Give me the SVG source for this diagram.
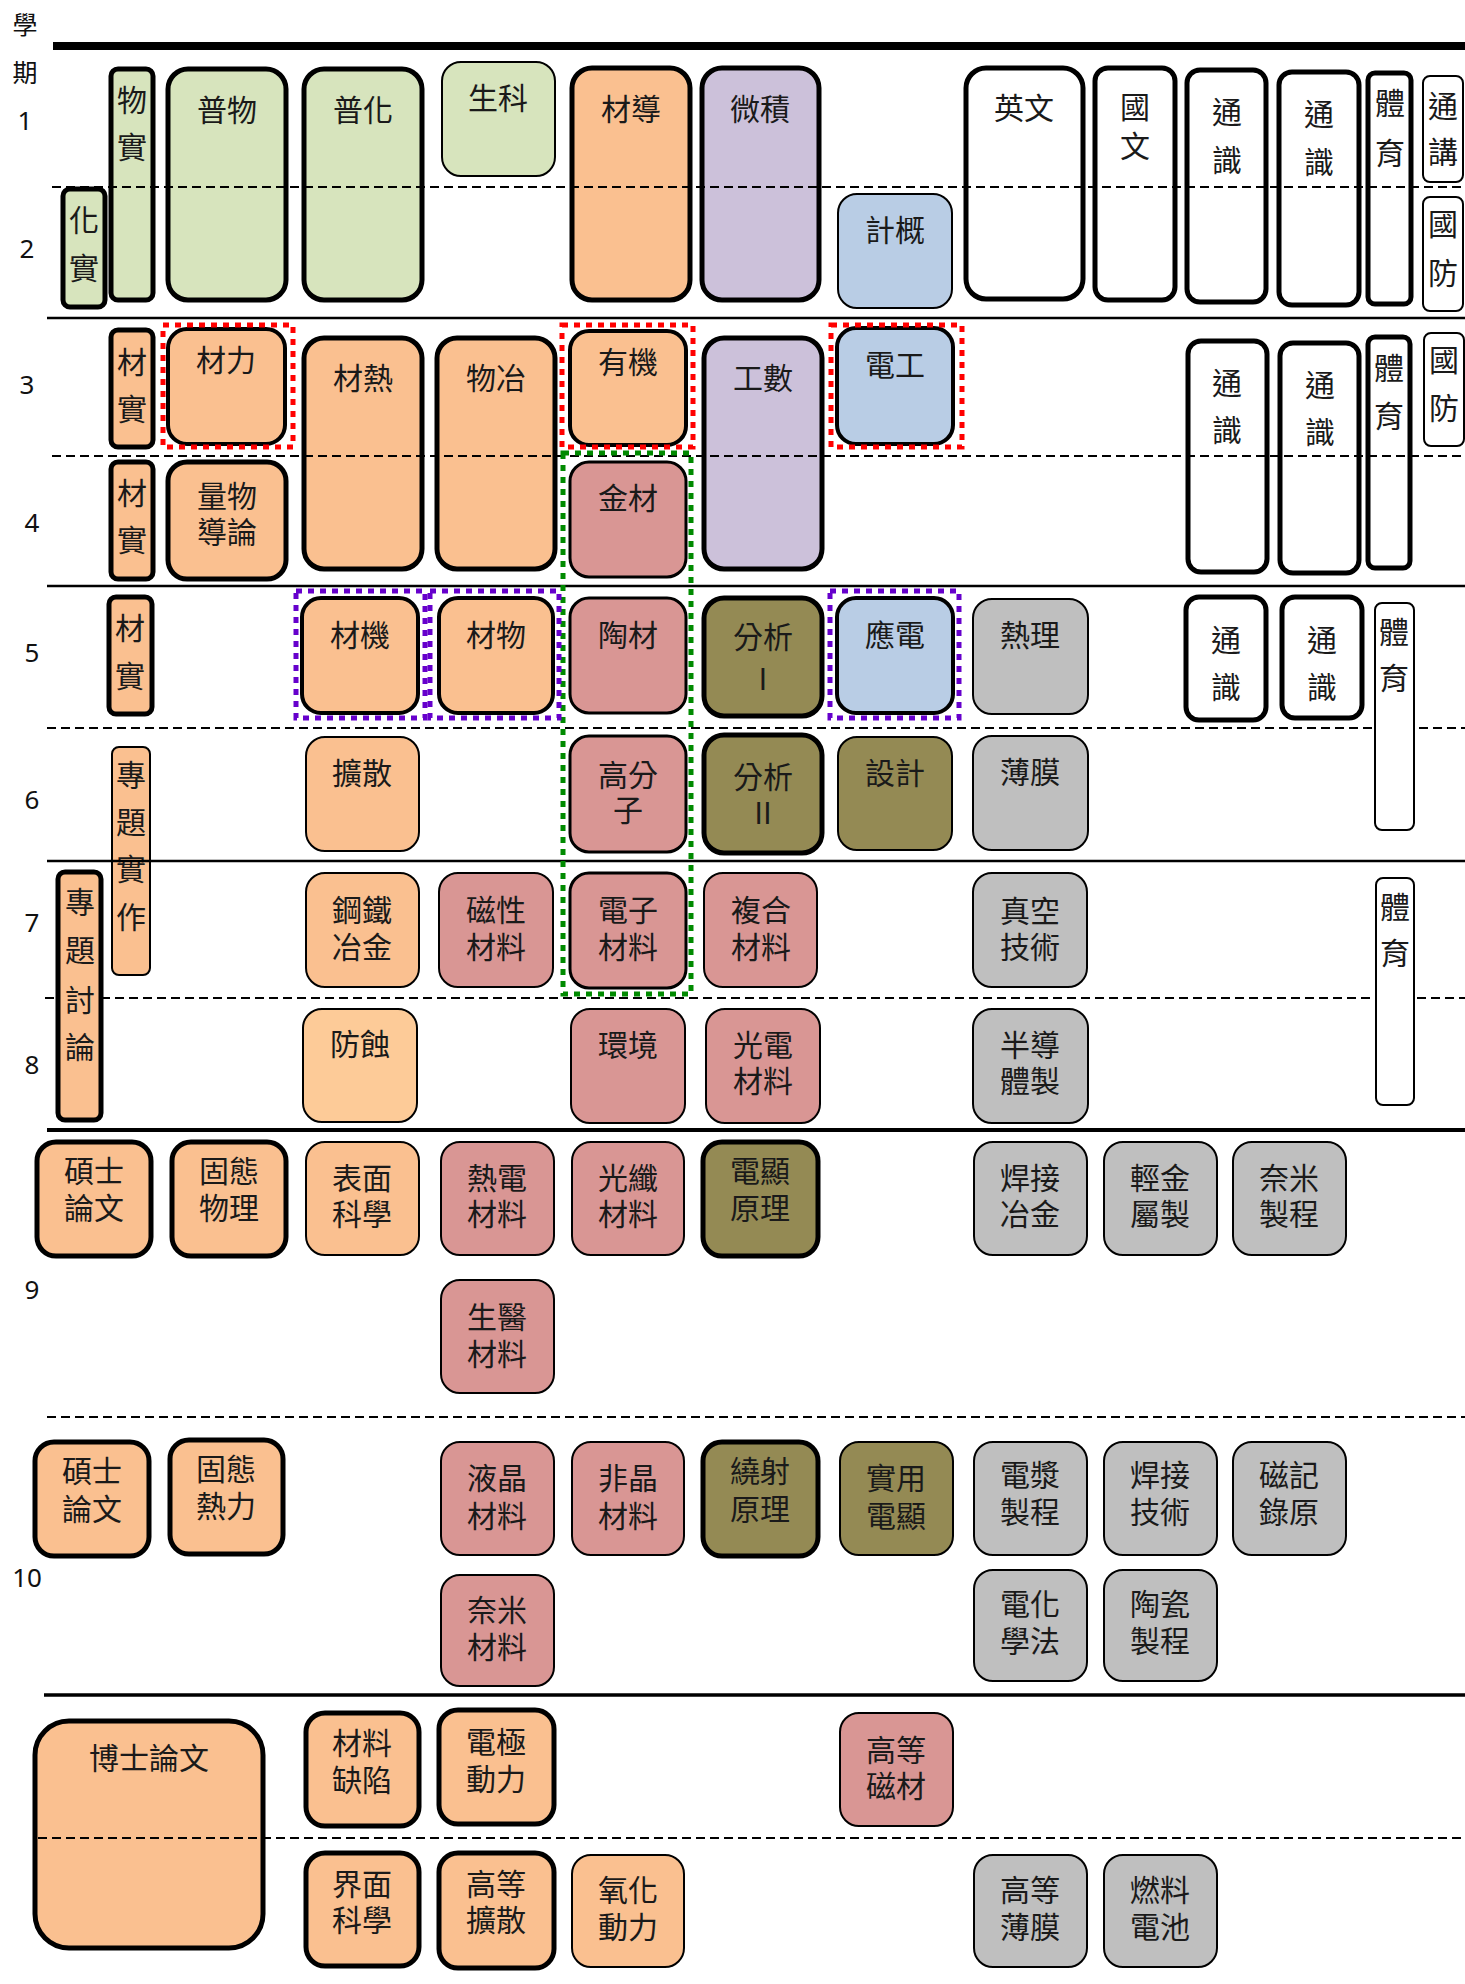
<svg xmlns="http://www.w3.org/2000/svg" width="1465" height="1984" viewBox="0 0 1465 1984">
<style>
.t{font-family:"Noto Sans CJK TC","Noto Sans CJK SC",sans-serif;font-size:30px;fill:#1a1a1a;text-anchor:middle}
.lab{font-family:"Noto Sans","Open Sans",sans-serif;font-size:26px;fill:#111;text-anchor:middle}
.labc{font-family:"Noto Sans CJK TC",sans-serif;font-size:25px;fill:#111;text-anchor:middle}
rect{stroke:#000}
.k{stroke-width:5}
.m{stroke-width:4}
.s{stroke-width:3}
.n{stroke-width:2}
.g{fill:#D7E4BD}
.o{fill:#FAC090}
.oo{fill:#FDCB98}
.v{fill:#CCC1DA}
.b{fill:#B9CDE5}
.r{fill:#D99694}
.y{fill:#948A54}
.e{fill:#BFBFBF}
.w{fill:#FFFFFF}
.sol{stroke:#000;fill:none}
.dash{stroke:#000;stroke-width:2;stroke-dasharray:9 5;fill:none}
.hl{fill:none;stroke-width:5;stroke-dasharray:6 6}
.red{stroke:#FF0000}
.pur{stroke:#6600CC}
.grn{stroke:#008A00}
</style>

<g id="axis">
<text class="labc" x="25" y="34">學</text>
<text class="labc" x="25" y="82">期</text>
<text class="lab" x="25" y="130">1</text>
<text class="lab" x="27" y="258">2</text>
<text class="lab" x="27" y="394">3</text>
<text class="lab" x="32" y="532">4</text>
<text class="lab" x="32" y="662">5</text>
<text class="lab" x="32" y="809">6</text>
<text class="lab" x="32" y="932">7</text>
<text class="lab" x="32" y="1074">8</text>
<text class="lab" x="32" y="1299">9</text>
<text class="lab" x="27" y="1587">10</text>
</g>

<!-- Semesters 1-2 -->
<g id="n-huashi"><rect class="g k" x="63" y="189" width="42" height="118" rx="7"/><text class="t"><tspan x="84" y="231">化</tspan><tspan x="84" y="279">實</tspan></text></g>
<g id="n-wushi"><rect class="g k" x="111" y="69" width="42" height="231" rx="7"/><text class="t"><tspan x="132" y="111">物</tspan><tspan x="132" y="158">實</tspan></text></g>
<g id="n-puwu"><rect class="g k" x="168" y="69" width="118" height="231" rx="20"/><text class="t" x="227" y="121">普物</text></g>
<g id="n-puhua"><rect class="g k" x="304" y="69" width="118" height="231" rx="20"/><text class="t" x="363" y="121">普化</text></g>
<g id="n-shengke"><rect class="g n" x="442" y="62" width="113" height="114" rx="19"/><text class="t" x="498" y="109">生科</text></g>
<g id="n-caidao"><rect class="o k" x="572" y="68" width="118" height="232" rx="20"/><text class="t" x="631" y="120">材導</text></g>
<g id="n-weiji"><rect class="v k" x="702" y="68" width="117" height="232" rx="20"/><text class="t" x="760" y="120">微積</text></g>
<g id="n-jigai"><rect class="b n" x="838" y="194" width="114" height="114" rx="19"/><text class="t" x="895" y="241">計概</text></g>
<g id="n-yingwen"><rect class="w k" x="966" y="68" width="117" height="231" rx="20"/><text class="t" x="1024" y="119">英文</text></g>
<g id="n-guowen"><rect class="w k" x="1095" y="68" width="80" height="232" rx="13"/><text class="t"><tspan x="1135" y="118">國</tspan><tspan x="1135" y="157">文</tspan></text></g>
<g id="n-tongshi1a"><rect class="w k" x="1187" y="70" width="79" height="232" rx="13"/><text class="t"><tspan x="1227" y="123">通</tspan><tspan x="1227" y="171">識</tspan></text></g>
<g id="n-tongshi1b"><rect class="w k" x="1279" y="72" width="80" height="233" rx="13"/><text class="t"><tspan x="1319" y="125">通</tspan><tspan x="1319" y="173">識</tspan></text></g>
<g id="n-tiyu1"><rect class="w k" x="1368" y="73" width="43" height="231" rx="7"/><text class="t"><tspan x="1390" y="114">體</tspan><tspan x="1390" y="164">育</tspan></text></g>
<g id="n-tongjiang"><rect class="w n" x="1423" y="76" width="40" height="106" rx="7"/><text class="t"><tspan x="1443" y="117">通</tspan><tspan x="1443" y="163">講</tspan></text></g>
<g id="n-guofang2"><rect class="w n" x="1423" y="197" width="40" height="114" rx="7"/><text class="t"><tspan x="1443" y="235">國</tspan><tspan x="1443" y="284">防</tspan></text></g>

<!-- Semesters 3-4 -->
<g id="n-caishi3"><rect class="o k" x="111" y="330" width="42" height="117" rx="7"/><text class="t"><tspan x="132" y="373">材</tspan><tspan x="132" y="420">實</tspan></text></g>
<g id="n-caili"><rect class="o m" x="168" y="329" width="117" height="115" rx="19"/><text class="t" x="226" y="371">材力</text></g>
<g id="n-caire"><rect class="o k" x="304" y="338" width="118" height="231" rx="20"/><text class="t" x="363" y="389">材熱</text></g>
<g id="n-wuye"><rect class="o k" x="437" y="338" width="118" height="231" rx="20"/><text class="t" x="496" y="389">物冶</text></g>
<g id="n-youji"><rect class="o m" x="570" y="331" width="116" height="114" rx="19"/><text class="t" x="628" y="373">有機</text></g>
<g id="n-gongshu"><rect class="v k" x="704" y="338" width="118" height="231" rx="20"/><text class="t" x="763" y="389">工數</text></g>
<g id="n-diangong"><rect class="b m" x="837" y="328" width="116" height="116" rx="19"/><text class="t" x="895" y="376">電工</text></g>
<g id="n-tongshi3a"><rect class="w k" x="1188" y="341" width="79" height="231" rx="13"/><text class="t"><tspan x="1227" y="394">通</tspan><tspan x="1227" y="441">識</tspan></text></g>
<g id="n-tongshi3b"><rect class="w k" x="1280" y="343" width="79" height="230" rx="13"/><text class="t"><tspan x="1320" y="396">通</tspan><tspan x="1320" y="443">識</tspan></text></g>
<g id="n-tiyu3"><rect class="w k" x="1368" y="337" width="42" height="231" rx="7"/><text class="t"><tspan x="1389" y="379">體</tspan><tspan x="1389" y="427">育</tspan></text></g>
<g id="n-guofang3"><rect class="w n" x="1424" y="333" width="40" height="113" rx="7"/><text class="t"><tspan x="1444" y="371">國</tspan><tspan x="1444" y="419">防</tspan></text></g>
<g id="n-caishi4"><rect class="o k" x="111" y="462" width="42" height="117" rx="7"/><text class="t"><tspan x="132" y="504">材</tspan><tspan x="132" y="551">實</tspan></text></g>
<g id="n-liangwu"><rect class="o k" x="168" y="462" width="118" height="117" rx="19"/><text class="t"><tspan x="227" y="507">量物</tspan><tspan x="227" y="543">導論</tspan></text></g>
<g id="n-jincai"><rect class="r s" x="570" y="462" width="116" height="115" rx="19"/><text class="t" x="628" y="509">金材</text></g>

<!-- Semesters 5-6 -->
<g id="n-caishi5"><rect class="o k" x="109" y="597" width="43" height="117" rx="7"/><text class="t"><tspan x="130" y="639">材</tspan><tspan x="130" y="687">實</tspan></text></g>
<g id="n-caiji"><rect class="o m" x="302" y="598" width="116" height="115" rx="19"/><text class="t" x="360" y="646">材機</text></g>
<g id="n-caiwu"><rect class="o m" x="439" y="598" width="114" height="115" rx="19"/><text class="t" x="496" y="646">材物</text></g>
<g id="n-taocai"><rect class="r s" x="570" y="598" width="116" height="115" rx="19"/><text class="t" x="628" y="646">陶材</text></g>
<g id="n-fenxi1"><rect class="y k" x="704" y="598" width="118" height="118" rx="20"/><text class="t"><tspan x="763" y="648">分析</tspan><tspan x="763" y="690">I</tspan></text></g>
<g id="n-yingdian"><rect class="b m" x="837" y="598" width="116" height="115" rx="19"/><text class="t" x="895" y="646">應電</text></g>
<g id="n-reli"><rect class="e n" x="973" y="599" width="115" height="115" rx="19"/><text class="t" x="1030" y="646">熱理</text></g>
<g id="n-tongshi5a"><rect class="w k" x="1186" y="597" width="80" height="123" rx="13"/><text class="t"><tspan x="1226" y="651">通</tspan><tspan x="1226" y="698">識</tspan></text></g>
<g id="n-tongshi5b"><rect class="w k" x="1282" y="597" width="80" height="121" rx="13"/><text class="t"><tspan x="1322" y="651">通</tspan><tspan x="1322" y="698">識</tspan></text></g>
<g id="n-zhuanti-sz"><rect class="o n" x="112" y="747" width="38" height="228" rx="7"/><text class="t"><tspan x="131" y="786">專</tspan><tspan x="131" y="833">題</tspan><tspan x="131" y="880">實</tspan><tspan x="131" y="928">作</tspan></text></g>
<g id="n-kuosan"><rect class="o n" x="306" y="737" width="113" height="114" rx="19"/><text class="t" x="362" y="784">擴散</text></g>
<g id="n-gaofenzi"><rect class="r s" x="570" y="736" width="116" height="116" rx="19"/><text class="t"><tspan x="628" y="786">高分</tspan><tspan x="628" y="821">子</tspan></text></g>
<g id="n-fenxi2"><rect class="y k" x="704" y="735" width="118" height="118" rx="20"/><text class="t"><tspan x="763" y="788">分析</tspan><tspan x="763" y="824">II</tspan></text></g>
<g id="n-sheji"><rect class="y n" x="838" y="737" width="114" height="113" rx="19"/><text class="t" x="895" y="784">設計</text></g>
<g id="n-bomo"><rect class="e n" x="973" y="736" width="115" height="114" rx="19"/><text class="t" x="1030" y="783">薄膜</text></g>

<!-- Semesters 7-8 -->
<g id="n-gangtie"><rect class="o n" x="306" y="873" width="113" height="114" rx="19"/><text class="t"><tspan x="362" y="921">鋼鐵</tspan><tspan x="362" y="958">冶金</tspan></text></g>
<g id="n-cixing"><rect class="r n" x="439" y="873" width="114" height="114" rx="19"/><text class="t"><tspan x="496" y="921">磁性</tspan><tspan x="496" y="958">材料</tspan></text></g>
<g id="n-dianzi"><rect class="r s" x="570" y="873" width="116" height="115" rx="19"/><text class="t"><tspan x="628" y="921">電子</tspan><tspan x="628" y="958">材料</tspan></text></g>
<g id="n-fuhe"><rect class="r n" x="704" y="873" width="113" height="114" rx="19"/><text class="t"><tspan x="761" y="921">複合</tspan><tspan x="761" y="958">材料</tspan></text></g>
<g id="n-zhenkong"><rect class="e n" x="973" y="873" width="114" height="114" rx="19"/><text class="t"><tspan x="1030" y="922">真空</tspan><tspan x="1030" y="958">技術</tspan></text></g>
<g id="n-fangshi"><rect class="oo n" x="303" y="1009" width="114" height="113" rx="19"/><text class="t" x="360" y="1055">防蝕</text></g>
<g id="n-huanjing"><rect class="r n" x="571" y="1009" width="114" height="114" rx="19"/><text class="t" x="628" y="1056">環境</text></g>
<g id="n-guangdian"><rect class="r n" x="706" y="1009" width="114" height="114" rx="19"/><text class="t"><tspan x="763" y="1056">光電</tspan><tspan x="763" y="1092">材料</tspan></text></g>
<g id="n-bandao"><rect class="e n" x="973" y="1009" width="115" height="114" rx="19"/><text class="t"><tspan x="1030" y="1056">半導</tspan><tspan x="1030" y="1092">體製</tspan></text></g>

<!-- Semester 9 -->
<g id="n-shuoshi9"><rect class="o k" x="37" y="1142" width="114" height="114" rx="19"/><text class="t"><tspan x="94" y="1182">碩士</tspan><tspan x="94" y="1219">論文</tspan></text></g>
<g id="n-gutaiwl"><rect class="o k" x="172" y="1142" width="114" height="114" rx="19"/><text class="t"><tspan x="229" y="1182">固態</tspan><tspan x="229" y="1219">物理</tspan></text></g>
<g id="n-biaomian"><rect class="o n" x="306" y="1142" width="113" height="113" rx="19"/><text class="t"><tspan x="362" y="1189">表面</tspan><tspan x="362" y="1225">科學</tspan></text></g>
<g id="n-piedian"><rect class="r n" x="441" y="1142" width="113" height="113" rx="19"/><text class="t"><tspan x="497" y="1189">熱電</tspan><tspan x="497" y="1225">材料</tspan></text></g>
<g id="n-guangxian"><rect class="r n" x="572" y="1142" width="112" height="113" rx="19"/><text class="t"><tspan x="628" y="1189">光纖</tspan><tspan x="628" y="1225">材料</tspan></text></g>
<g id="n-dianxian"><rect class="y k" x="703" y="1142" width="115" height="114" rx="19"/><text class="t"><tspan x="760" y="1182">電顯</tspan><tspan x="760" y="1219">原理</tspan></text></g>
<g id="n-hanjieyj"><rect class="e n" x="974" y="1142" width="113" height="113" rx="19"/><text class="t"><tspan x="1030" y="1189">焊接</tspan><tspan x="1030" y="1225">冶金</tspan></text></g>
<g id="n-qingjin"><rect class="e n" x="1104" y="1142" width="113" height="113" rx="19"/><text class="t"><tspan x="1160" y="1189">輕金</tspan><tspan x="1160" y="1225">屬製</tspan></text></g>
<g id="n-naimizc"><rect class="e n" x="1233" y="1142" width="113" height="113" rx="19"/><text class="t"><tspan x="1289" y="1189">奈米</tspan><tspan x="1289" y="1225">製程</tspan></text></g>
<g id="n-shengyi"><rect class="r n" x="441" y="1280" width="113" height="113" rx="19"/><text class="t"><tspan x="497" y="1328">生醫</tspan><tspan x="497" y="1365">材料</tspan></text></g>

<!-- Semester 10 -->
<g id="n-shuoshi10"><rect class="o k" x="35" y="1442" width="114" height="114" rx="19"/><text class="t"><tspan x="92" y="1482">碩士</tspan><tspan x="92" y="1520">論文</tspan></text></g>
<g id="n-gutairl"><rect class="o k" x="170" y="1440" width="113" height="114" rx="19"/><text class="t"><tspan x="226" y="1480">固態</tspan><tspan x="226" y="1517">熱力</tspan></text></g>
<g id="n-yejing"><rect class="r n" x="441" y="1442" width="113" height="113" rx="19"/><text class="t"><tspan x="497" y="1489">液晶</tspan><tspan x="497" y="1527">材料</tspan></text></g>
<g id="n-feijing"><rect class="r n" x="572" y="1442" width="112" height="113" rx="19"/><text class="t"><tspan x="628" y="1489">非晶</tspan><tspan x="628" y="1527">材料</tspan></text></g>
<g id="n-raoshe"><rect class="y k" x="703" y="1442" width="115" height="114" rx="19"/><text class="t"><tspan x="760" y="1482">繞射</tspan><tspan x="760" y="1520">原理</tspan></text></g>
<g id="n-shiyong"><rect class="y n" x="840" y="1442" width="113" height="113" rx="19"/><text class="t"><tspan x="896" y="1489">實用</tspan><tspan x="896" y="1527">電顯</tspan></text></g>
<g id="n-dianjiang"><rect class="e n" x="974" y="1442" width="113" height="113" rx="19"/><text class="t"><tspan x="1030" y="1486">電漿</tspan><tspan x="1030" y="1523">製程</tspan></text></g>
<g id="n-hanjiejs"><rect class="e n" x="1104" y="1442" width="113" height="113" rx="19"/><text class="t"><tspan x="1160" y="1486">焊接</tspan><tspan x="1160" y="1523">技術</tspan></text></g>
<g id="n-ciji"><rect class="e n" x="1233" y="1442" width="113" height="113" rx="19"/><text class="t"><tspan x="1289" y="1486">磁記</tspan><tspan x="1289" y="1523">錄原</tspan></text></g>
<g id="n-naimicl"><rect class="r n" x="441" y="1575" width="113" height="111" rx="19"/><text class="t"><tspan x="497" y="1621">奈米</tspan><tspan x="497" y="1658">材料</tspan></text></g>
<g id="n-dianhua"><rect class="e n" x="974" y="1570" width="113" height="111" rx="19"/><text class="t"><tspan x="1030" y="1615">電化</tspan><tspan x="1030" y="1652">學法</tspan></text></g>
<g id="n-taoci"><rect class="e n" x="1104" y="1570" width="113" height="111" rx="19"/><text class="t"><tspan x="1160" y="1615">陶瓷</tspan><tspan x="1160" y="1652">製程</tspan></text></g>

<!-- Semesters 11-12 -->
<g id="n-boshi"><rect class="o k" x="35" y="1721" width="228" height="227" rx="34"/><text class="t" x="149" y="1769">博士論文</text></g>
<g id="n-quexian"><rect class="o k" x="306" y="1713" width="113" height="113" rx="19"/><text class="t"><tspan x="362" y="1754">材料</tspan><tspan x="362" y="1791">缺陷</tspan></text></g>
<g id="n-dianji"><rect class="o k" x="439" y="1710" width="115" height="114" rx="19"/><text class="t"><tspan x="496" y="1753">電極</tspan><tspan x="496" y="1790">動力</tspan></text></g>
<g id="n-gaocicai"><rect class="r n" x="840" y="1713" width="113" height="113" rx="19"/><text class="t"><tspan x="896" y="1761">高等</tspan><tspan x="896" y="1797">磁材</tspan></text></g>
<g id="n-jiemian"><rect class="o k" x="306" y="1853" width="113" height="113" rx="19"/><text class="t"><tspan x="362" y="1895">界面</tspan><tspan x="362" y="1931">科學</tspan></text></g>
<g id="n-gaokuosan"><rect class="o k" x="439" y="1853" width="115" height="115" rx="19"/><text class="t"><tspan x="496" y="1895">高等</tspan><tspan x="496" y="1931">擴散</tspan></text></g>
<g id="n-yanghua"><rect class="o n" x="572" y="1855" width="112" height="112" rx="19"/><text class="t"><tspan x="628" y="1901">氧化</tspan><tspan x="628" y="1938">動力</tspan></text></g>
<g id="n-gaobomo"><rect class="e n" x="974" y="1855" width="113" height="112" rx="19"/><text class="t"><tspan x="1030" y="1901">高等</tspan><tspan x="1030" y="1938">薄膜</tspan></text></g>
<g id="n-ranliao"><rect class="e n" x="1104" y="1855" width="113" height="112" rx="19"/><text class="t"><tspan x="1160" y="1901">燃料</tspan><tspan x="1160" y="1938">電池</tspan></text></g>

<!-- semester grid lines -->
<g id="connectors">
<line class="sol" x1="53" y1="46" x2="1465" y2="46" stroke-width="8"/>
<line class="dash" x1="52" y1="187" x2="1465" y2="187"/>
<line class="sol" x1="47" y1="318" x2="1465" y2="318" stroke-width="2.5"/>
<line class="dash" x1="52" y1="456" x2="1465" y2="456"/>
<line class="sol" x1="47" y1="586" x2="1465" y2="586" stroke-width="2.5"/>
<line class="dash" x1="47" y1="728" x2="1465" y2="728"/>
<line class="sol" x1="47" y1="861" x2="1465" y2="861" stroke-width="2.5"/>
<line class="dash" x1="45" y1="998" x2="1465" y2="998"/>
<line class="sol" x1="47" y1="1130" x2="1465" y2="1130" stroke-width="4"/>
<line class="dash" x1="47" y1="1417" x2="1465" y2="1417"/>
<line class="sol" x1="44" y1="1695" x2="1465" y2="1695" stroke-width="3.5"/>
<line class="dash" x1="38" y1="1838" x2="1465" y2="1838"/>
</g>

<!-- nodes drawn above the grid lines -->
<g id="n-zhuanti-tl"><rect class="o k" x="58" y="872" width="43" height="248" rx="7"/><text class="t"><tspan x="80" y="913">專</tspan><tspan x="80" y="961">題</tspan><tspan x="80" y="1011">討</tspan><tspan x="80" y="1058">論</tspan></text></g>
<g id="n-tiyu5"><rect class="w n" x="1375" y="603" width="39" height="227" rx="7"/><text class="t"><tspan x="1394" y="643">體</tspan><tspan x="1394" y="689">育</tspan></text></g>
<g id="n-tiyu7"><rect class="w n" x="1376" y="878" width="38" height="227" rx="7"/><text class="t"><tspan x="1395" y="918">體</tspan><tspan x="1395" y="964">育</tspan></text></g>

<!-- highlight frames -->
<g id="highlights">
<rect class="hl red" x="163" y="325" width="130" height="122"/>
<rect class="hl red" x="562" y="325" width="131" height="122"/>
<rect class="hl red" x="831" y="325" width="131" height="122"/>
<rect class="hl grn" x="563" y="453" width="128" height="541"/>
<rect class="hl pur" x="296" y="591" width="129" height="127"/>
<rect class="hl pur" x="430" y="591" width="129" height="127"/>
<rect class="hl pur" x="830" y="591" width="129" height="127"/>
</g>
</svg>
